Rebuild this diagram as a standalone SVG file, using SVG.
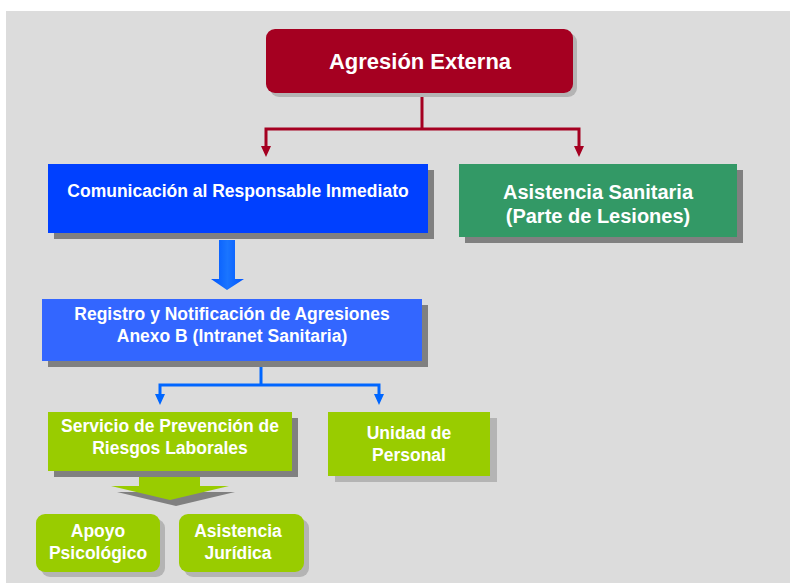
<svg xmlns="http://www.w3.org/2000/svg" width="790" height="583" viewBox="0 0 790 583">
<defs>
<style>
.t{font-family:"Liberation Sans",Arial,sans-serif;font-weight:bold;fill:#ffffff;text-anchor:middle}
.sd{fill:#808080}
.sl{fill:#b4b4b4}
.red{stroke:#a50021;stroke-width:3;fill:none}
.blu{stroke:#0066ff;stroke-width:3;fill:none}
.rh{fill:#a50021}
.bh{fill:#0066ff}
</style>
<linearGradient id="ga" x1="0" y1="0" x2="1" y2="0">
<stop offset="0" stop-color="#0055ff"/>
<stop offset="0.5" stop-color="#1a75ff"/>
<stop offset="1" stop-color="#0055ff"/>
</linearGradient>
</defs>
<rect x="0" y="0" width="790" height="583" fill="#ffffff"/>
<rect x="6" y="11" width="784" height="572" fill="#dcdcdc"/>

<g id="connectors">
<path class="red" d="M422,93 V129 M266,129 H579 M266,127.5 V148 M579,127.5 V148"/>
<path class="rh" d="M261,146 H271 L266,157 Z M574,146 H584 L579,157 Z"/>
<path class="blu" d="M261,361 V385 M160,385 H379 M160,383.5 V396 M379,383.5 V396"/>
<path class="bh" d="M155,394 H165 L160,405 Z M374,394 H384 L379,405 Z"/>
<path d="M219,240 H235 V279 H244 L227,290 L211,279 H219 Z" fill="url(#ga)"/>
<path d="M117,492 H235 L176,506 Z" fill="#808080"/>
<path d="M139,471 H200 V486 H229 L170,500 L111,486 H139 Z" fill="#99cc00"/>
</g>

<g id="n-agresion">
<rect class="sl" x="270" y="33" width="307" height="64" rx="9"/>
<rect x="266" y="29" width="307" height="64" rx="9" fill="#a50021"/>
<text class="t" x="420" y="69" font-size="22">Agresión Externa</text>
</g>

<g id="n-comunicacion">
<rect class="sd" x="54" y="170" width="380" height="69"/>
<rect x="48" y="164" width="380" height="69" fill="#0040ff"/>
<text class="t" x="238" y="197" font-size="17.5">Comunicación al Responsable Inmediato</text>
</g>

<g id="n-asistencia-sanitaria">
<rect class="sd" x="465" y="170" width="278" height="73"/>
<rect x="459" y="164" width="278" height="73" fill="#339966"/>
<text class="t" x="598" y="199" font-size="20">Asistencia Sanitaria</text>
<text class="t" x="598" y="223" font-size="20">(Parte de Lesiones)</text>
</g>

<g id="n-registro">
<rect class="sd" x="48" y="305" width="380" height="62"/>
<rect x="42" y="299" width="380" height="62" fill="#3366ff"/>
<text class="t" x="232" y="320" font-size="17.5">Registro y Notificación de Agresiones</text>
<text class="t" x="232" y="342" font-size="17.5">Anexo B (Intranet Sanitaria)</text>
</g>

<g id="n-prevencion">
<rect class="sd" x="54" y="418" width="244" height="59"/>
<rect x="48" y="412" width="244" height="59" fill="#99cc00"/>
<text class="t" x="170" y="432" font-size="17.5">Servicio de Prevención de</text>
<text class="t" x="170" y="454" font-size="17.5">Riesgos Laborales</text>
</g>

<g id="n-unidad">
<rect class="sl" x="335" y="418" width="162" height="64"/>
<rect x="328" y="412" width="162" height="64" fill="#99cc00"/>
<text class="t" x="409" y="439" font-size="17.5">Unidad de</text>
<text class="t" x="409" y="461" font-size="17.5">Personal</text>
</g>

<g id="n-apoyo">
<rect class="sl" x="41" y="519" width="124" height="58" rx="9"/>
<rect x="36" y="514" width="124" height="58" rx="9" fill="#99cc00"/>
<text class="t" x="98" y="537" font-size="17.5">Apoyo</text>
<text class="t" x="98" y="559" font-size="17.5">Psicológico</text>
</g>

<g id="n-juridica">
<rect class="sl" x="184" y="519" width="125" height="58" rx="9"/>
<rect x="179" y="514" width="125" height="58" rx="9" fill="#99cc00"/>
<text class="t" x="238" y="537" font-size="17.5">Asistencia</text>
<text class="t" x="238" y="559" font-size="17.5">Jurídica</text>
</g>
</svg>
